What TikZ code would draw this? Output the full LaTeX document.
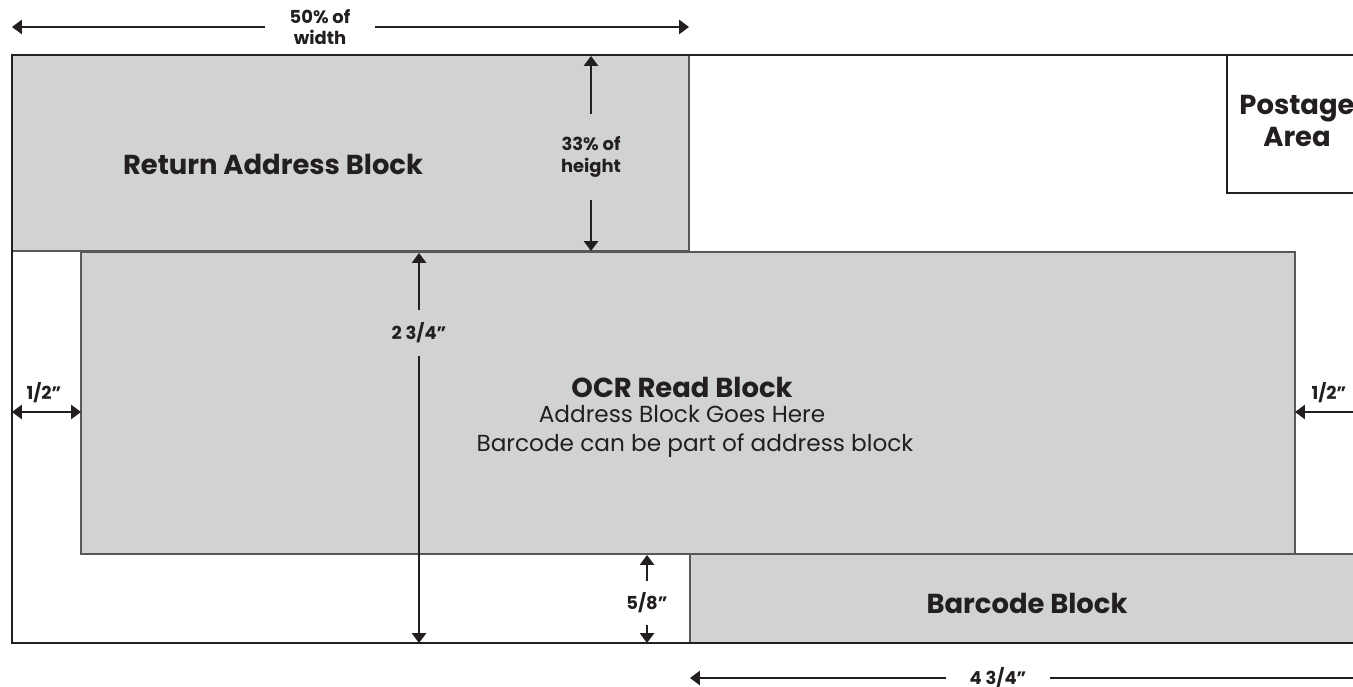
\documentclass[tikz,border=0pt]{standalone}
\usepackage{fontspec}
\setmainfont{Poppins}
\usetikzlibrary{arrows.meta}
\definecolor{blkgray}{HTML}{D1D2D4}
\definecolor{ink}{HTML}{231F20}
\tikzset{%
    env/.style={line width=0.75pt, draw=ink},
    blk/.style={fill=blkgray, draw=ink!75, line width=0.45pt},
    dima/.style={line width=0.6pt, draw=ink, -{Triangle[width=4pt,length=2.8pt]}},
    ddim/.style={line width=0.6pt, draw=ink, {Triangle[width=4pt,length=2.8pt]}-{Triangle[width=4pt,length=2.8pt]}},
    lbl/.style={font=\bfseries\fontsize{5.1}{6.2}\selectfont, text=ink, align=center, inner sep=0pt},
    ttl/.style={font=\bfseries\fontsize{7.8}{9.1}\selectfont, text=ink, align=center, inner sep=0pt},
    txt/.style={font=\fontsize{6.6}{7.6}\selectfont, text=ink, align=center, inner sep=0pt},
}
\begin{document}
\begin{tikzpicture}[x=0.1mm,y=-0.1mm]
    \useasboundingbox (0,0) rectangle (1353,687);
    % blocks
    \draw [blk] (12,55) rectangle (689,251);
    \draw [blk] (81,252) rectangle (1295,554);
    \draw [blk] (690,554) rectangle (1360,643);
    \draw [env, line width=0.6pt] (1227,55) -- (1227,193) -- (1360,193);
    % envelope edge
    \draw [env] (1360,55) -- (12,55) -- (12,643) -- (1360,643);
    % texts
    \node [ttl] (ret) at (273,164) {Return Address Block};
    \node [ttl] (post) at (1297,121) {Postage\\Area};
    \node [ttl] (ocr) at (682,387) {OCR Read Block};
    \node [txt] (ocra) at (682,414) {Address Block Goes Here};
    \node [txt] (ocrb) at (695,446) {Barcode can be part of address block};
    \node [ttl] (bar) at (1027,603) {Barcode Block};
    % dimensions
    \coordinate (wl) at (12,27);
    \coordinate (wr) at (689,27);
    \node [lbl, inner xsep=2.4mm] (wlab) at (320,27) {50\% of\\width};
    \draw [dima] (wlab) -- (wl);
    \draw [dima] (wlab) -- (wr);
    \coordinate (ht) at (591,56);
    \coordinate (hb) at (591,251);
    \node [lbl, inner ysep=2.2mm] (hlab) at (591,157) {33\% of\\height};
    \draw [dima] (hlab) -- (ht);
    \draw [dima] (hlab) -- (hb);
    \coordinate (ot) at (419,253);
    \coordinate (ob) at (419,643);
    \node [lbl, inner ysep=1.2mm] (olab) at (419,333) {2 3/4”};
    \draw [dima] (olab) -- (ot);
    \draw [dima] (olab) -- (ob);
    \coordinate (lt) at (12,412);
    \coordinate (lr) at (81,412);
    \draw [ddim] (lt) -- (lr);
    \node [lbl] (llab) at (44,393) {1/2”};
    \coordinate (rt) at (1353,412);
    \coordinate (rr) at (1295,412);
    \draw [dima] (rt) -- (rr);
    \node [lbl] (rlab) at (1329,393) {1/2”};
    \coordinate (bt) at (647,555);
    \coordinate (bb) at (647,643);
    \node [lbl, inner ysep=1.1mm] (blab) at (647,603) {5/8”};
    \draw [dima] (blab) -- (bt);
    \draw [dima] (blab) -- (bb);
    \coordinate (fl) at (690,678);
    \coordinate (fr) at (1353,678);
    \node [lbl, inner xsep=2.3mm] (flab) at (998,678) {4 3/4”};
    \draw [dima] (flab) -- (fl);
    \draw [line width=0.6pt, draw=ink] (flab) -- (fr);
\end{tikzpicture}
\end{document}
